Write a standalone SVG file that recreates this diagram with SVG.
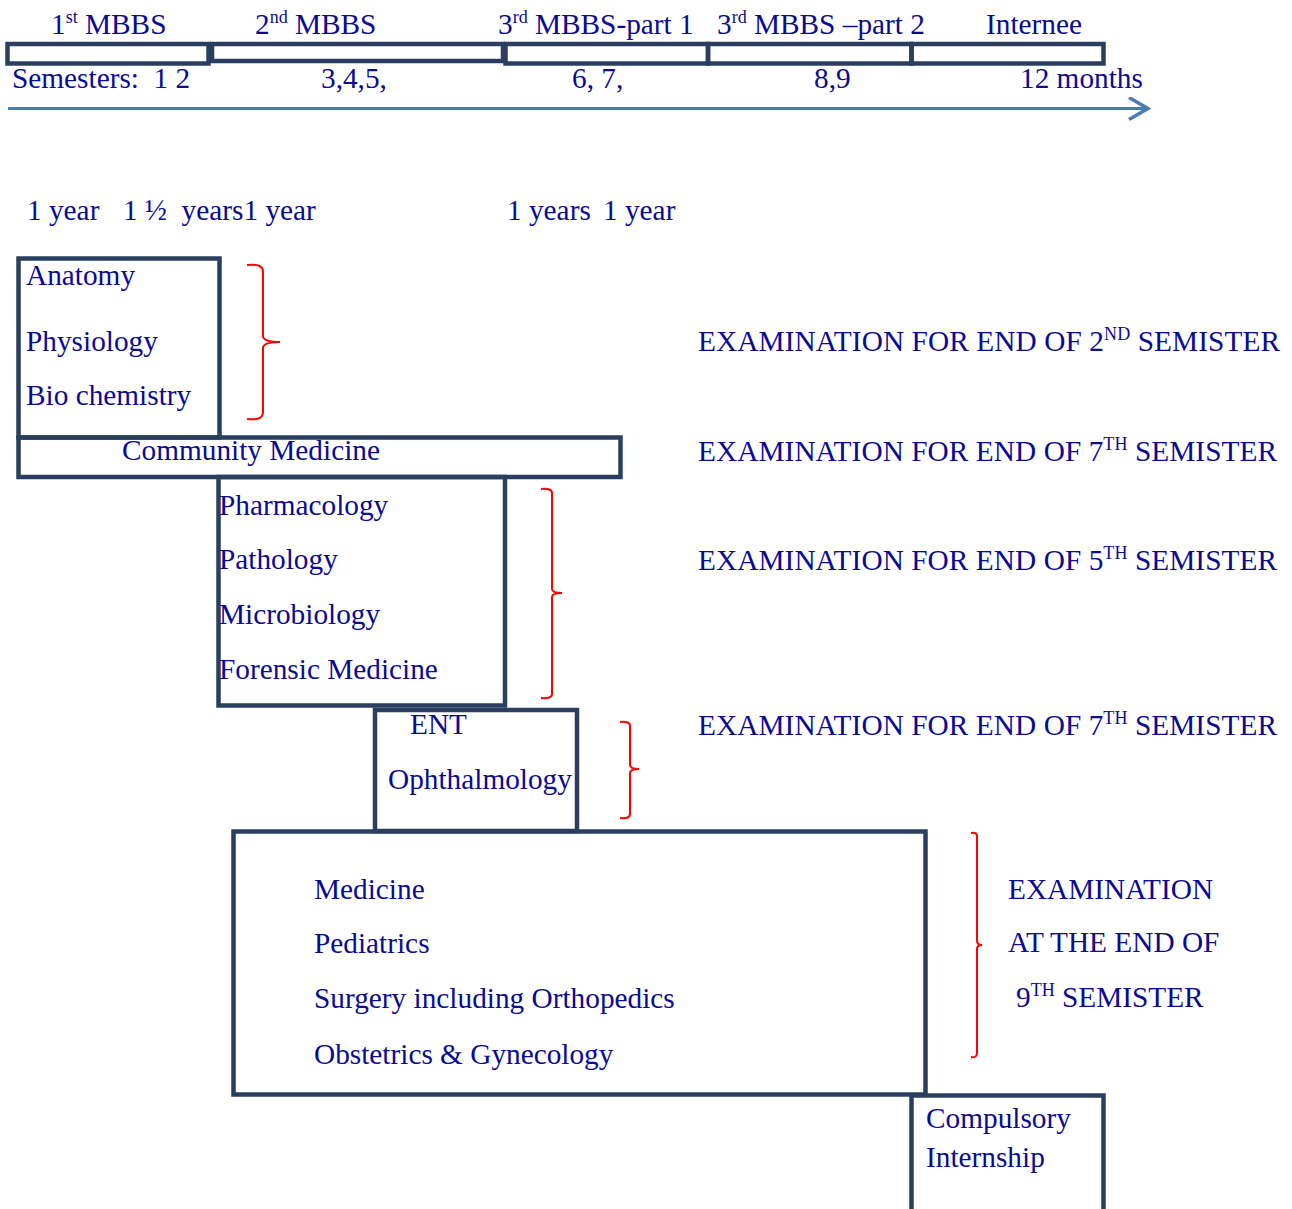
<svg xmlns="http://www.w3.org/2000/svg" width="1292" height="1209" viewBox="0 0 1292 1209">
<style>
text{font-family:"Liberation Serif","Times New Roman",serif;font-size:29.3px;fill:#0a0a94;white-space:pre}
.sup{font-size:18px}
.box{fill:none;stroke:#2a3f5f;stroke-width:4.5}
.brace{fill:none;stroke:#ff0000;stroke-width:2}
</style>
<defs>
<marker id="chev" markerWidth="24" markerHeight="26" refX="21" refY="12" orient="auto" markerUnits="userSpaceOnUse">
<path d="M2,1 L21,12 L2,23" fill="none" stroke="#4a7ab6" stroke-width="3.5"/>
</marker>
</defs>
<rect width="1292" height="1209" fill="#ffffff"/>

<g id="timeline">
<rect class="box" x="7.5" y="44" width="201" height="19.5"/>
<rect class="box" x="212" y="44" width="291" height="17" stroke-width="8"/>
<rect class="box" x="505.5" y="44" width="202.5" height="19.5"/>
<rect class="box" x="708" y="44" width="203.5" height="19.5"/>
<rect class="box" x="911.5" y="44" width="192" height="19.5"/>
<text x="51" y="33.5">1<tspan class="sup" dy="-11">st</tspan><tspan dy="11"> MBBS</tspan></text>
<text x="255" y="33.5">2<tspan class="sup" dy="-11">nd</tspan><tspan dy="11"> MBBS</tspan></text>
<text x="498" y="33.5">3<tspan class="sup" dy="-11">rd</tspan><tspan dy="11"> MBBS-part 1</tspan></text>
<text x="717" y="33.5">3<tspan class="sup" dy="-11">rd</tspan><tspan dy="11"> MBBS –part 2</tspan></text>
<text x="986" y="33.5">Internee</text>
<text x="12" y="88" xml:space="preserve">Semesters:  1 2</text>
<text x="321" y="88">3,4,5,</text>
<text x="572" y="88">6, 7,</text>
<text x="814" y="88">8,9</text>
<text x="1020" y="88">12 months</text>
</g>

<g id="connectors">
<line x1="8" y1="108.5" x2="1148" y2="108.5" stroke="#4a7ab6" stroke-width="3" marker-end="url(#chev)"/>
</g>

<g id="durations">
<text x="27" y="220">1 year</text>
<text x="123" y="220" xml:space="preserve">1 ½  years1 year</text>
<text x="507" y="220">1 years</text>
<text x="603" y="220">1 year</text>
</g>

<g id="node-first">
<rect class="box" x="18.5" y="258.5" width="201" height="179"/>
<text x="26" y="285">Anatomy</text>
<text x="26" y="351">Physiology</text>
<text x="26" y="405">Bio chemistry</text>
</g>

<g id="node-community">
<rect class="box" x="18.5" y="437.5" width="602" height="39.5"/>
<text x="122" y="460">Community Medicine</text>
</g>

<g id="node-second">
<rect class="box" x="218.5" y="477" width="286.5" height="228.5"/>
<text x="219" y="515">Pharmacology</text>
<text x="219" y="569">Pathology</text>
<text x="219" y="624">Microbiology</text>
<text x="219" y="679">Forensic Medicine</text>
</g>

<g id="node-ent">
<rect class="box" x="375" y="710" width="202" height="121"/>
<text x="410" y="734">ENT</text>
<text x="388" y="789">Ophthalmology</text>
</g>

<g id="node-final">
<rect class="box" x="233.5" y="831.5" width="692" height="263"/>
<text x="314" y="898.5">Medicine</text>
<text x="314" y="952.5">Pediatrics</text>
<text x="314" y="1007.5">Surgery including Orthopedics</text>
<text x="314" y="1063.5">Obstetrics &amp; Gynecology</text>
</g>

<g id="node-internship">
<path class="box" d="M911.5,1212 L911.5,1095.5 L1103.5,1095.5 L1103.5,1212"/>
<text x="926" y="1128">Compulsory</text>
<text x="926" y="1167">Internship</text>
</g>

<g id="braces">
<path class="brace" d="M247,265 Q263,263 263,272 L263,336 Q263,342 280,342 Q263,342 263,348 L263,412 Q263,421 247,419"/>
<path class="brace" d="M541,489 Q552,488 552,493 L552,589 Q552,593 562,593 Q552,593 552,597 L552,694 Q552,699 541,698"/>
<path class="brace" d="M620,722 Q630,721 630,726 L630,765 Q630,769 639,769 Q630,769 630,773 L630,814 Q630,819 620,818"/>
<path class="brace" d="M971,833 Q977,832 977,836 L977,941 Q977,945 982,945 Q977,945 977,949 L977,1053 Q977,1058 971,1057"/>
</g>

<g id="exams">
<text x="698" y="350.5" textLength="582" lengthAdjust="spacing">EXAMINATION FOR END OF 2<tspan class="sup" dy="-11">ND</tspan><tspan dy="11"> SEMISTER</tspan></text>
<text x="698" y="460.5" textLength="579" lengthAdjust="spacing">EXAMINATION FOR END OF 7<tspan class="sup" dy="-11">TH</tspan><tspan dy="11"> SEMISTER</tspan></text>
<text x="698" y="569.5" textLength="579" lengthAdjust="spacing">EXAMINATION FOR END OF 5<tspan class="sup" dy="-11">TH</tspan><tspan dy="11"> SEMISTER</tspan></text>
<text x="698" y="734.5" textLength="579" lengthAdjust="spacing">EXAMINATION FOR END OF 7<tspan class="sup" dy="-11">TH</tspan><tspan dy="11"> SEMISTER</tspan></text>
<text x="1008" y="899">EXAMINATION</text>
<text x="1008" y="952">AT THE END OF</text>
<text x="1016" y="1007">9<tspan class="sup" dy="-11">TH</tspan><tspan dy="11"> SEMISTER</tspan></text>
</g>
</svg>
